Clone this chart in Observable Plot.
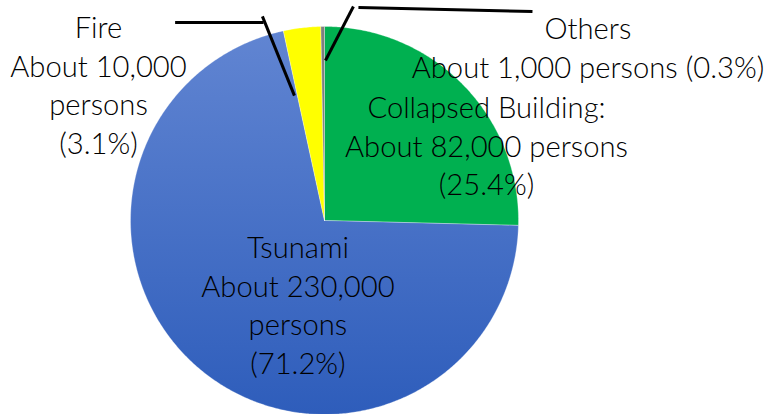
<!DOCTYPE html>
<html>
<head>
<meta charset="utf-8">
<script src="https://cdn.jsdelivr.net/npm/d3@7"></script>
<script src="https://cdn.jsdelivr.net/npm/@observablehq/plot@0.6"></script>
<style>
  html, body { margin: 0; padding: 0; background: #fff; }
  #chart svg { display: block; }
</style>
</head>
<body>
<div id="chart"></div>
<script>
// ---- data ----
const categories = ["Collapsed Building", "Tsunami", "Fire", "Others"];
const persons = [82000, 230000, 10000, 1000];
const shares = [25.4, 71.2, 3.1, 0.3];
const sliceColors = ["#00B050", "url(#blueGrad)", "#FFFF00", "#7F7F7F"];
const labelLines = [
  ["Collapsed Building:", "About 82,000 persons", "(25.4%)"],
  ["Tsunami", "About 230,000", "persons", "(71.2%)"],
  ["Fire", "About 10,000", "persons", "(3.1%)"],
  ["Others", "About 1,000 persons (0.3%)"]
];
// label anchor (x centre, baseline of last line) in pie-radius units
const labelX = [0.835, -0.137, -1.165, 1.358];
const labelY = [0.129, -0.789, 0.345, 0.737];
// leader lines in pie-radius units
const leaders = [
  {x1: -0.77, y1: 1.021, x2: -0.314, y2: 1.021},
  {x1: -0.32, y1: 1.052, x2: -0.155, y2: 0.644},
  {x1: 0.175, y1: 1.098, x2: 1.072, y2: 1.077},
  {x1: 0.149, y1: 1.103, x2: 0.005, y2: 0.825}
];

// ---- geometry ----
const W = 769, H = 414, R = 194, CX = 324, CY = 220;
const pie = d3.pie().sort(null).value(d => d.share).startAngle(0).endAngle(2 * Math.PI);
const rows = categories.map((c, i) => ({category: c, persons: persons[i], share: shares[i], color: sliceColors[i]}));
const arcs = pie(rows);
const slicePts = arcs.map((a, i) => {
  const pts = [{x: 0, y: 0, k: i}];
  const n = Math.max(2, Math.ceil((a.endAngle - a.startAngle) / (Math.PI / 360)));
  for (let j = 0; j <= n; j++) {
    const t = a.startAngle + (a.endAngle - a.startAngle) * j / n;
    pts.push({x: Math.sin(t), y: Math.cos(t), k: i});
  }
  pts.push({x: 0, y: 0, k: i});
  return pts;
});

const labels = labelLines.map((l, i) => ({text: l.join("\n"), x: labelX[i], y: labelY[i]}));

const FS = 29.2;
const plot = Plot.plot({
  width: W,
  height: H,
  margin: 0,
  x: {domain: [-CX / R, (W - CX) / R], axis: null},
  y: {domain: [-(H - CY) / R, CY / R], axis: null},
  style: {background: "#fff", fontFamily: "Lato, 'Open Sans', sans-serif"},
  marks: [
    ...slicePts.map((pts, i) => Plot.line(pts, {
      x: "x", y: "y", fill: sliceColors[i], stroke: "#ffffff", strokeOpacity: 0.5, strokeWidth: 0.6, curve: "linear"
    })),
    Plot.link(leaders, {x1: "x1", y1: "y1", x2: "x2", y2: "y2", stroke: "#000", strokeWidth: 3}),
    Plot.text(labels, {
      x: "x", y: "y", text: "text", lineAnchor: "bottom", lineHeight: 38.5 / FS,
      fontSize: FS, fontWeight: 300, fill: "#000", textAnchor: "middle"
    })
  ]
});

const svg = d3.select(plot);
const defs = svg.insert("defs", ":first-child");
const g = defs.append("linearGradient").attr("id", "blueGrad")
  .attr("x1", 0).attr("y1", 0).attr("x2", 0).attr("y2", 1);
g.append("stop").attr("offset", "0%").attr("stop-color", "#6185d2");
g.append("stop").attr("offset", "100%").attr("stop-color", "#2e5dbb");

document.getElementById("chart").appendChild(plot);
</script>
</body>
</html>
